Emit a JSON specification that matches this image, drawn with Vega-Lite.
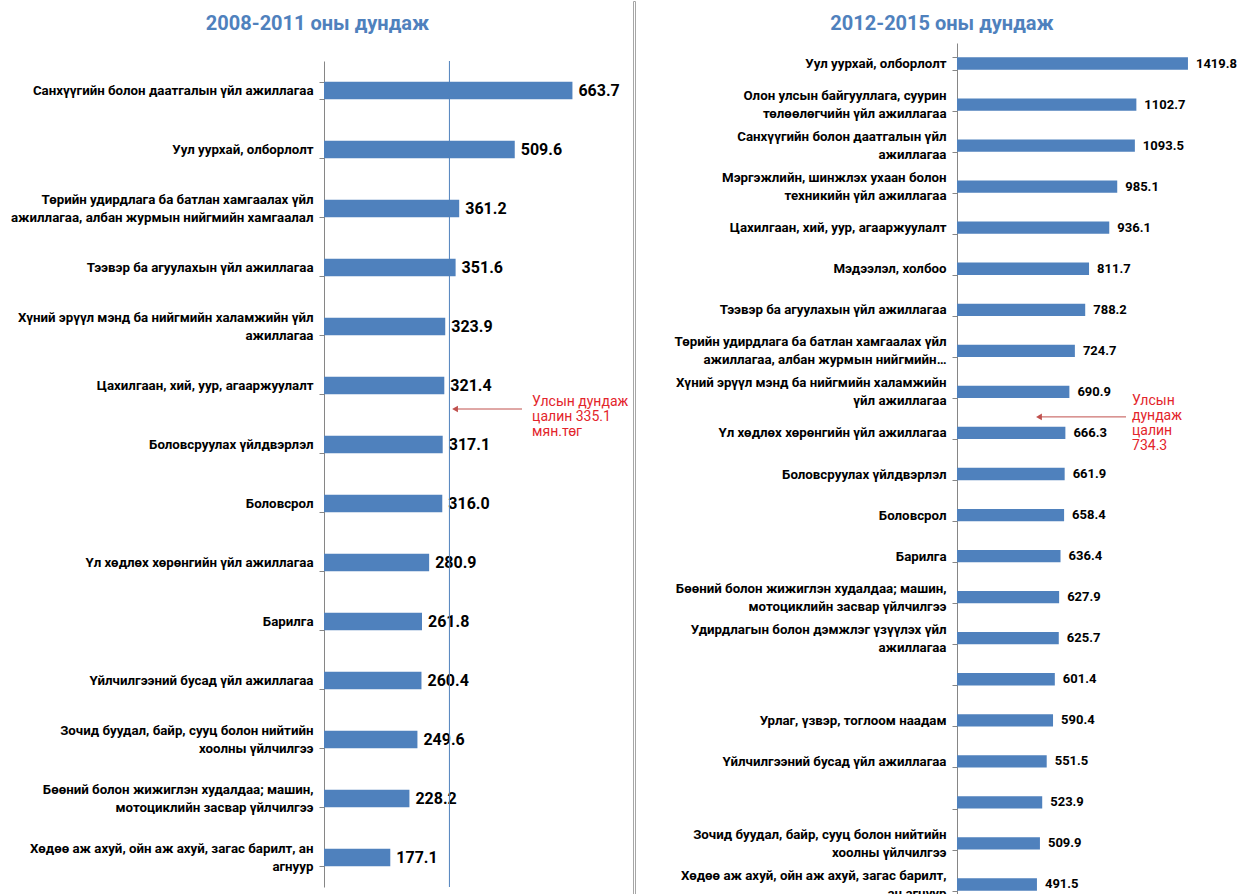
{
  "$schema": "https://vega.github.io/schema/vega-lite/v6.json",
  "padding": {"left": 10, "top": 0, "right": 0, "bottom": 0},
  "bounds": "flush",
  "center": true,
  "spacing": 0,
  "datasets": {
    "left": [
      {"label": "Санхүүгийн болон даатгалын үйл ажиллагаа", "value": 663.7},
      {"label": "Уул уурхай, олборлолт", "value": 509.6},
      {"label": "Төрийн удирдлага ба батлан хамгаалах үйл|ажиллагаа, албан журмын нийгмийн хамгаалал", "value": 361.2},
      {"label": "Тээвэр ба агуулахын үйл ажиллагаа", "value": 351.6},
      {"label": "Хүний эрүүл мэнд ба нийгмийн халамжийн үйл|ажиллагаа", "value": 323.9},
      {"label": "Цахилгаан, хий, уур, агааржуулалт", "value": 321.4},
      {"label": "Боловсруулах үйлдвэрлэл", "value": 317.1},
      {"label": "Боловсрол", "value": 316.0},
      {"label": "Үл хөдлөх хөрөнгийн үйл ажиллагаа", "value": 280.9},
      {"label": "Барилга", "value": 261.8},
      {"label": "Үйлчилгээний бусад үйл ажиллагаа", "value": 260.4},
      {"label": "Зочид буудал, байр, сууц болон нийтийн|хоолны үйлчилгээ", "value": 249.6},
      {"label": "Бөөний болон жижиглэн худалдаа; машин,|мотоциклийн засвар үйлчилгээ", "value": 228.2},
      {"label": "Хөдөө аж ахуй, ойн аж ахуй, загас барилт, ан|агнуур", "value": 177.1}
    ],
    "leftNote": [
      {"label": "Цахилгаан, хий, уур, агааржуулалт", "avg": 335.1, "tip": 350, "tail": 529, "tx": 556, "note": "Улсын дундаж\nцалин 335.1\nмян.төг"}
    ],
    "right": [
      {"label": "Уул уурхай, олборлолт", "value": 1419.8},
      {"label": "Олон улсын байгууллага, суурин|төлөөлөгчийн үйл ажиллагаа", "value": 1102.7},
      {"label": "Санхүүгийн болон даатгалын үйл|ажиллагаа", "value": 1093.5},
      {"label": "Мэргэжлийн, шинжлэх ухаан болон|техникийн үйл ажиллагаа", "value": 985.1},
      {"label": "Цахилгаан, хий, уур, агааржуулалт", "value": 936.1},
      {"label": "Мэдээлэл, холбоо", "value": 811.7},
      {"label": "Тээвэр ба агуулахын үйл ажиллагаа", "value": 788.2},
      {"label": "Төрийн удирдлага ба батлан хамгаалах үйл|ажиллагаа, албан журмын нийгмийн…", "value": 724.7},
      {"label": "Хүний эрүүл мэнд ба нийгмийн халамжийн|үйл ажиллагаа", "value": 690.9},
      {"label": "Үл хөдлөх хөрөнгийн үйл ажиллагаа", "value": 666.3},
      {"label": "Боловсруулах үйлдвэрлэл", "value": 661.9},
      {"label": "Боловсрол", "value": 658.4},
      {"label": "Барилга", "value": 636.4},
      {"label": "Бөөний болон жижиглэн худалдаа; машин,|мотоциклийн засвар үйлчилгээ", "value": 627.9},
      {"label": "Удирдлагын болон дэмжлэг үзүүлэх үйл|ажиллагаа", "value": 625.7},
      {"label": " ", "value": 601.4},
      {"label": "Урлаг, үзвэр, тоглоом наадам", "value": 590.4},
      {"label": "Үйлчилгээний бусад үйл ажиллагаа", "value": 551.5},
      {"label": "  ", "value": 523.9},
      {"label": "Зочид буудал, байр, сууц болон нийтийн|хоолны үйлчилгээ", "value": 509.9},
      {"label": "Хөдөө аж ахуй, ойн аж ахуй, загас барилт,|ан агнуур", "value": 491.5}
    ],
    "rightNote": [
      {"label": "Хүний эрүүл мэнд ба нийгмийн халамжийн|үйл ажиллагаа", "tip": 504, "tail": 1039, "tx": 1076, "note": "Улсын\nдундаж\nцалин\n734.3"}
    ]
  },
  "hconcat": [
    {
      "width": 309,
      "height": 826,
      "title": {"text": "2008-2011 оны дундаж", "frame": "group", "anchor": "middle", "dx": -161, "offset": 4.5, "baseline": "alphabetic", "fontSize": 20, "font": "Roboto", "fontWeight": "bold", "color": "#4F81BD"},
      "layer": [
        {
          "data": {"name": "left"},
          "mark": {"type": "bar", "color": "#4F81BD"},
          "encoding": {
            "y": {"field": "label", "type": "nominal", "sort": null, "scale": {"paddingInner": 0.7, "paddingOuter": 0.35}, "axis": {"labelExpr": "split(datum.label, '|')", "labelOffset": {"condition": {"test": "indexof(datum.label, '|') >= 0", "value": -9}, "value": 0}}},
            "x": {"field": "value", "type": "quantitative", "scale": {"domain": [0, 825.5], "nice": false}, "axis": null}
          }
        },
        {
          "data": {"name": "left"},
          "mark": {"type": "text", "align": "left", "baseline": "middle", "dx": 6, "fontSize": 16, "fontWeight": "bold", "font": "Roboto", "color": "#000000"},
          "encoding": {
            "y": {"field": "label", "type": "nominal", "sort": null},
            "x": {"field": "value", "type": "quantitative"},
            "text": {"field": "value", "type": "quantitative", "format": ".1f"}
          }
        },
        {
          "data": {"name": "leftNote"},
          "mark": {"type": "rule", "color": "#4F81BD", "strokeWidth": 1},
          "encoding": {"x": {"field": "avg", "type": "quantitative"}}
        },
        {
          "data": {"name": "leftNote"},
          "mark": {"type": "rule", "color": "#C0504D", "strokeWidth": 1, "yOffset": 23.5},
          "encoding": {
            "y": {"field": "label", "type": "nominal", "sort": null},
            "x": {"field": "tip", "type": "quantitative"},
            "x2": {"field": "tail"}
          }
        },
        {
          "data": {"name": "leftNote"},
          "mark": {"type": "point", "shape": "triangle-left", "filled": true, "size": 45, "opacity": 1, "color": "#C0504D", "yOffset": 23.5},
          "encoding": {
            "y": {"field": "label", "type": "nominal", "sort": null},
            "x": {"field": "tip", "type": "quantitative"}
          }
        },
        {
          "data": {"name": "leftNote"},
          "mark": {"type": "text", "align": "left", "baseline": "top", "dy": 9.5, "lineBreak": "\n", "lineHeight": 15, "fontSize": 14, "font": "Roboto", "color": "#E3242B"},
          "encoding": {
            "y": {"field": "label", "type": "nominal", "sort": null},
            "x": {"field": "tx", "type": "quantitative"},
            "text": {"field": "note"}
          }
        }
      ]
    },
    {
      "width": 2,
      "height": 946,
      "view": {"stroke": "#A6A6A6", "strokeWidth": 1},
      "data": {"values": [{"v": 0}]},
      "mark": {"type": "point", "opacity": 0},
      "encoding": {}
    },
    {
      "width": 566,
      "height": 862,
      "title": {"text": "2012-2015 оны  дундаж", "frame": "group", "anchor": "middle", "dx": 24, "offset": -13.5, "baseline": "alphabetic", "fontSize": 20, "font": "Roboto", "fontWeight": "bold", "color": "#4F81BD"},
      "layer": [
        {
          "data": {"name": "right"},
          "mark": {"type": "bar", "color": "#4F81BD"},
          "encoding": {
            "y": {"field": "label", "type": "nominal", "sort": null, "scale": {"paddingInner": 0.7, "paddingOuter": 0.35}, "axis": {"labelExpr": "split(datum.label, '|')", "offset": -322, "labelOffset": {"condition": {"test": "indexof(datum.label, '|') >= 0", "value": -9}, "value": 0}}},
            "x": {"field": "value", "type": "quantitative", "scale": {"domain": [-1979.4, 1500], "nice": false, "zero": false}, "axis": null}
          }
        },
        {
          "data": {"name": "right"},
          "mark": {"type": "text", "align": "left", "baseline": "middle", "dx": 8, "fontSize": 13, "fontWeight": "bold", "font": "Roboto", "color": "#000000"},
          "encoding": {
            "y": {"field": "label", "type": "nominal", "sort": null},
            "x": {"field": "value", "type": "quantitative"},
            "text": {"field": "value", "type": "quantitative", "format": ".1f"}
          }
        },
        {
          "data": {"name": "rightNote"},
          "mark": {"type": "rule", "color": "#C0504D", "strokeWidth": 1, "yOffset": 25},
          "encoding": {
            "y": {"field": "label", "type": "nominal", "sort": null},
            "x": {"field": "tip", "type": "quantitative"},
            "x2": {"field": "tail"}
          }
        },
        {
          "data": {"name": "rightNote"},
          "mark": {"type": "point", "shape": "triangle-left", "filled": true, "size": 45, "opacity": 1, "color": "#C0504D", "yOffset": 25},
          "encoding": {
            "y": {"field": "label", "type": "nominal", "sort": null},
            "x": {"field": "tip", "type": "quantitative"}
          }
        },
        {
          "data": {"name": "rightNote"},
          "mark": {"type": "text", "align": "left", "baseline": "top", "dy": 2.5, "lineBreak": "\n", "lineHeight": 15, "fontSize": 14, "font": "Roboto", "color": "#E3242B"},
          "encoding": {
            "y": {"field": "label", "type": "nominal", "sort": null},
            "x": {"field": "tx", "type": "quantitative"},
            "text": {"field": "note"}
          }
        }
      ]
    }
  ],
  "config": {
    "view": {"stroke": null},
    "font": "Roboto",
    "axis": {
      "title": null,
      "grid": false,
      "domainColor": "#868686",
      "tickColor": "#868686",
      "tickSize": 5,
      "tickBand": "extent",
      "labelFont": "Roboto",
      "labelFontSize": 13.3,
      "labelFontWeight": "bold",
      "labelColor": "#000000",
      "labelPadding": 6,
      "labelLimit": 400,
      "labelLineHeight": 18,
      "labelOverlap": false
    }
  }
}
